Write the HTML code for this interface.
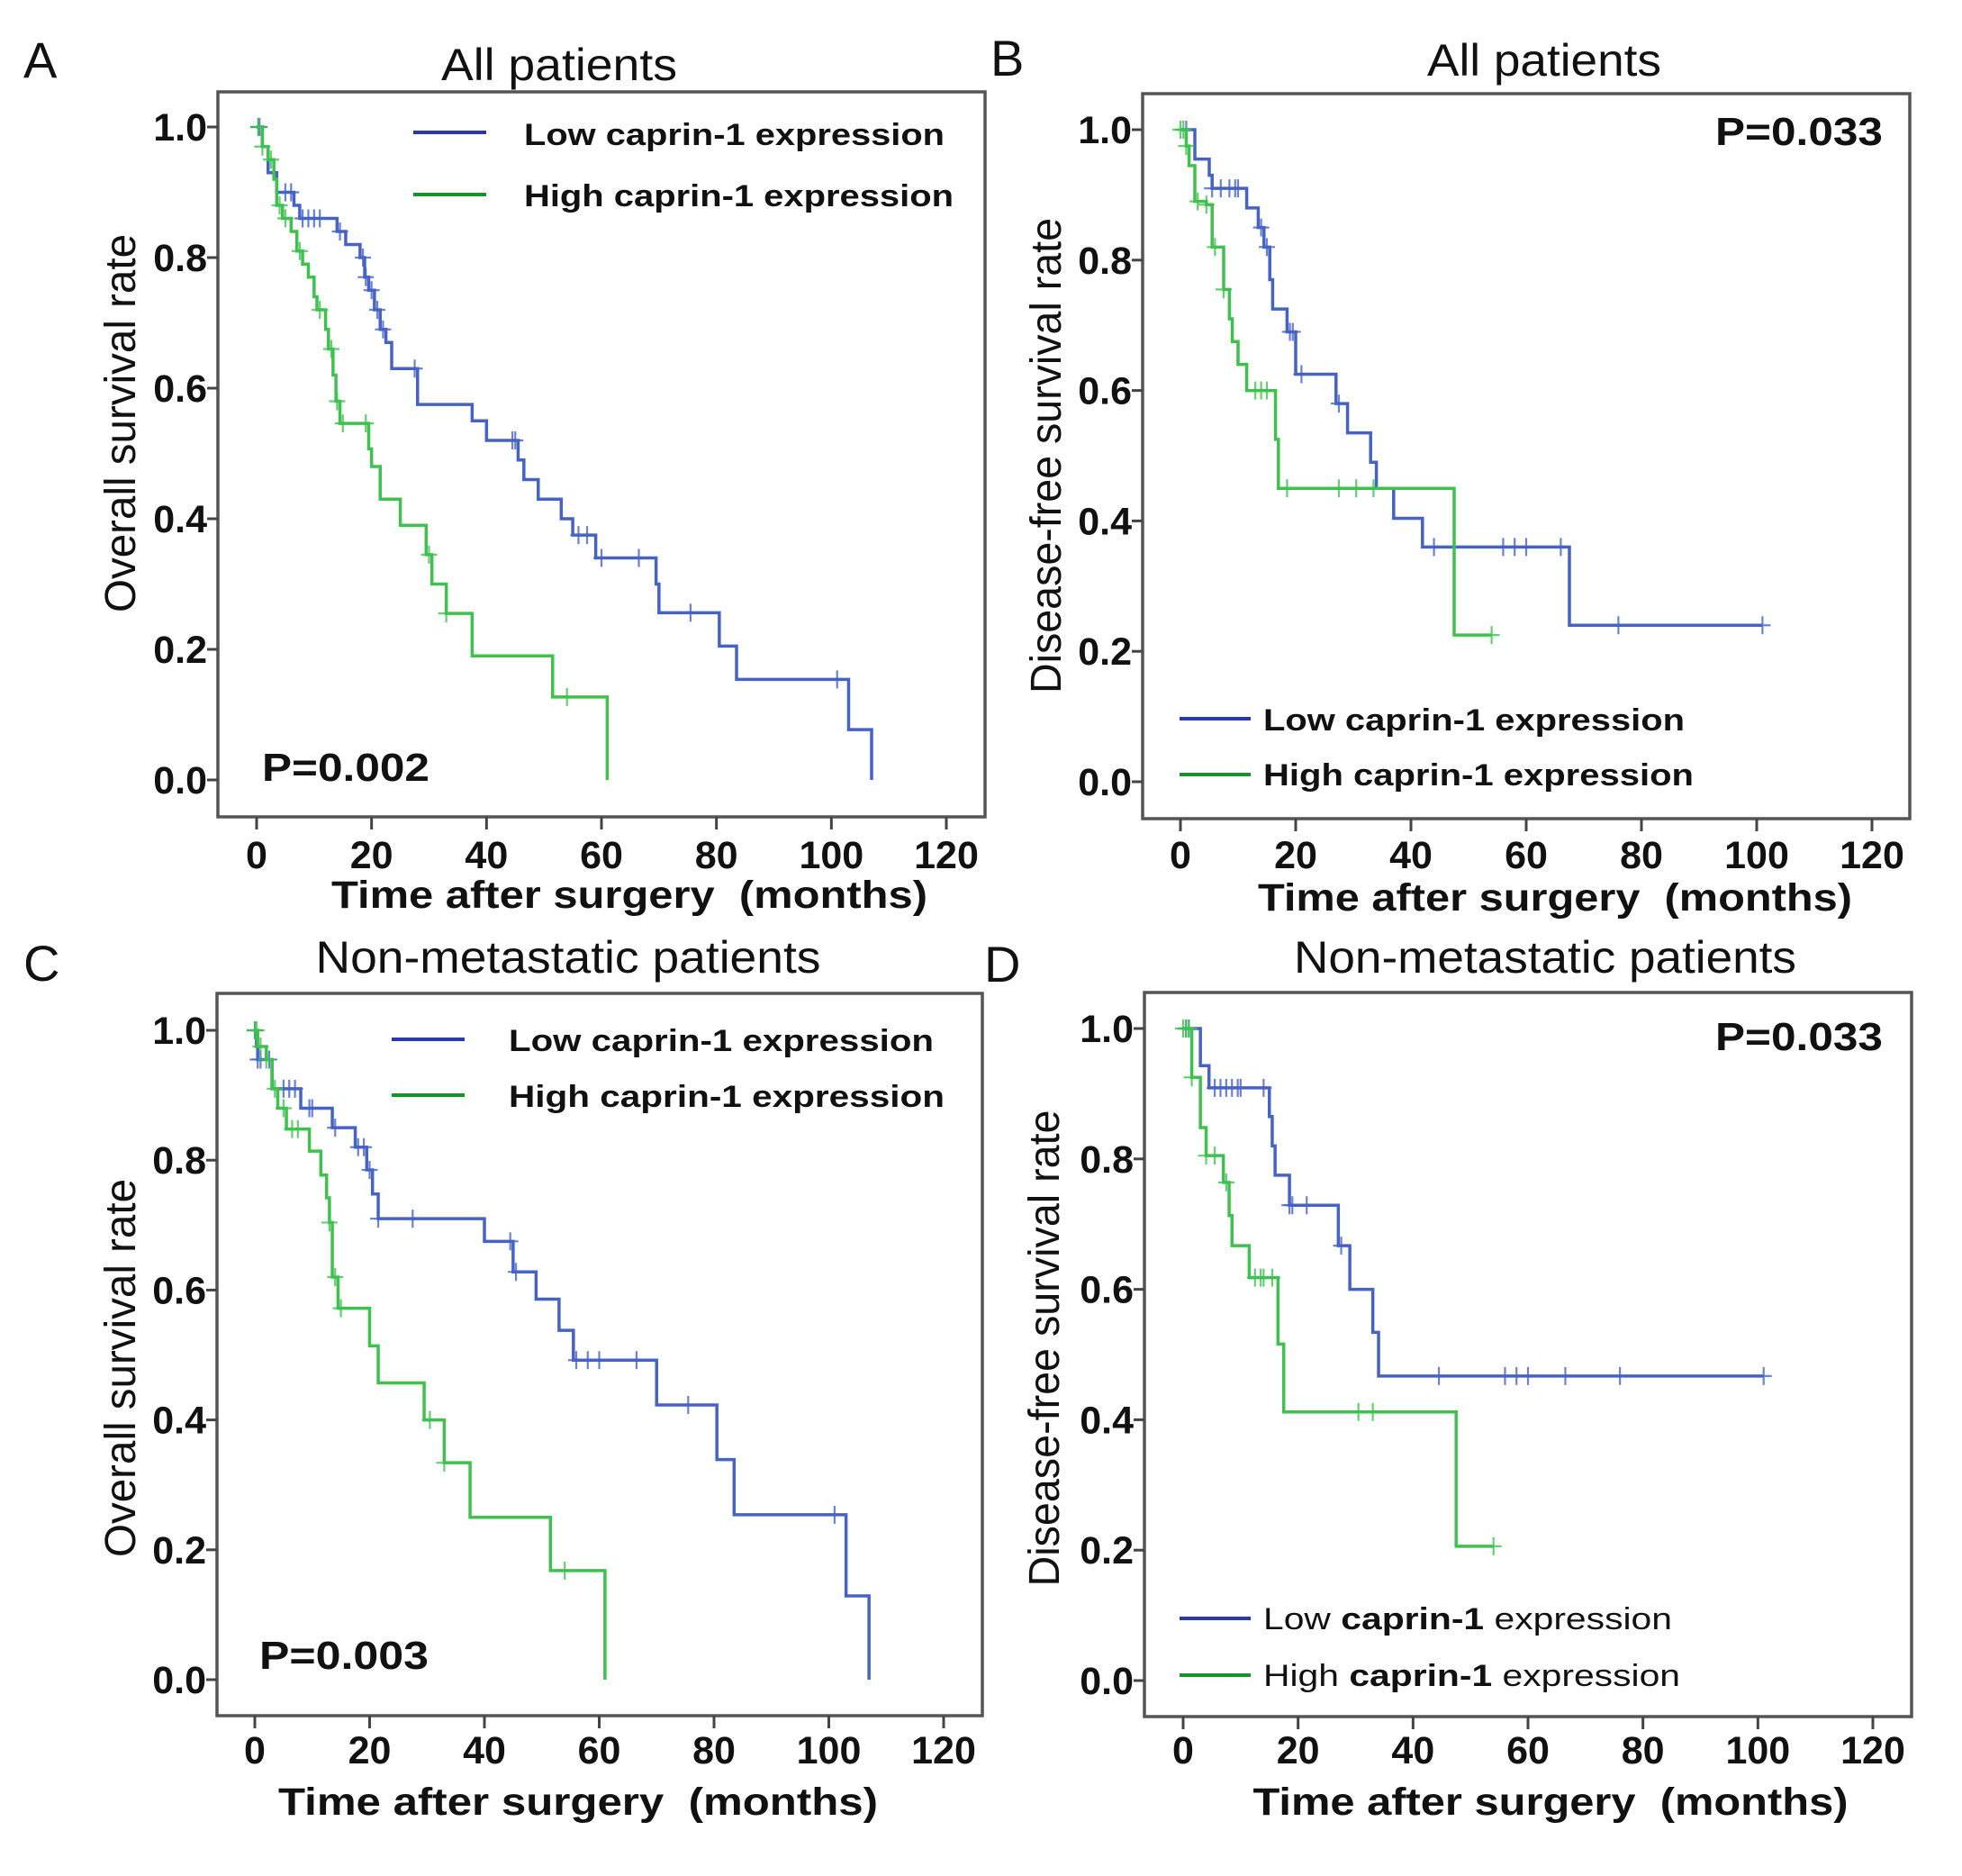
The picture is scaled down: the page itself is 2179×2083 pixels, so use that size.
<!DOCTYPE html>
<html><head><meta charset="utf-8"><style>
html,body{margin:0;padding:0;background:#fff;}
svg{display:block;}
text{font-family:"Liberation Sans",Arial,sans-serif;fill:#111;white-space:pre;}
</style></head><body>
<svg id="fig" width="2179" height="2083" viewBox="0 0 2179 2083" xmlns="http://www.w3.org/2000/svg"></svg>
<script>
// ---------- data (months, survival) ----------
const xTicks = [0, 20, 40, 60, 80, 100, 120];
const yTicks = [0.0, 0.2, 0.4, 0.6, 0.8, 1.0];
const yTickLabels = ["0.0", "0.2", "0.4", "0.6", "0.8", "1.0"];

// Panel A
const aLowEventT = [1,2,3.5,6.5,7.5,14,15.5,18,18.8,19.5,20.5,21.5,22.5,23.5,28,37.5,40,45.5,46.5,49,53,55,59,69.5,70,80.5,83.5,103,107];
const aLowEventS = [0.97,0.93,0.90,0.88,0.86,0.84,0.82,0.80,0.77,0.75,0.72,0.69,0.67,0.63,0.575,0.55,0.52,0.49,0.46,0.43,0.40,0.375,0.34,0.30,0.256,0.205,0.154,0.077,0];
const aLowCensor = [0.3,0.5,5,6,8,9,10,11,14.5,18.5,19,20,21,22,27.5,44.5,45,56,57.5,60,66.5,75.5,101];
const aHighEventT = [1,2,3,3.5,4.5,6,7,8,9,10,10.5,12,12.5,13.3,13.8,14.5,19.5,20,21.5,25,29.5,30.5,33,37.5,51.5,61];
const aHighEventS = [0.97,0.95,0.92,0.88,0.86,0.84,0.81,0.79,0.77,0.74,0.72,0.69,0.66,0.62,0.58,0.546,0.507,0.48,0.43,0.39,0.345,0.30,0.255,0.19,0.127,0];
const aHighCensor = [0.3,1,2.5,4,5,7.5,11,13,14,15,19,30,33,54];

// Panel B
const bLowEventT = [2.5,5,5.5,11.5,13.5,14.5,15.5,16,18.5,20,27,29,33,34,37,42,67.5];
const bLowEventS = [0.955,0.93,0.91,0.88,0.85,0.82,0.77,0.725,0.69,0.625,0.58,0.535,0.49,0.45,0.404,0.36,0.24];
const bLowCensor = [1,5.5,7,8.5,9.5,10,14,15,19,19.5,21,27.5,44,56,58,60,66,76,101];
const bHighEventT = [1,1.5,2.5,4.5,5.5,7.5,8.5,9,10,11.5,16.5,17,47.5];
const bHighEventS = [0.975,0.945,0.89,0.885,0.82,0.755,0.71,0.675,0.64,0.60,0.525,0.45,0.225];
const bHighCensor = [0,0.5,1,3,4.5,6,7.5,13,14,15,18.5,27.5,30.5,33.5,54];

// Panel C
const cLowEventT = [0.3,0.5,3,8,13.5,17.5,19.5,20.5,21.5,40,45,49,53,55.5,70,80.5,83.5,103,107];
const cLowEventS = [0.975,0.955,0.91,0.88,0.85,0.82,0.785,0.748,0.71,0.675,0.628,0.586,0.538,0.492,0.423,0.339,0.254,0.129,0];
const cLowCensor = [0,0.5,1,2.5,5,6,7,9.5,10,14,18,19,20,21.5,27.5,44.5,45.5,56,58,60,66.5,75.5,101];
const cHighEventT = [0.5,2,3,4,5.5,9.5,11.5,12.5,13,13.5,14.5,20,21.5,29.5,33,37.5,51.5,61];
const cHighEventS = [0.975,0.955,0.91,0.88,0.848,0.814,0.777,0.742,0.704,0.62,0.572,0.514,0.457,0.40,0.334,0.25,0.168,0];
const cHighCensor = [0,0.3,1,2,3.5,5,6.5,7.5,13,14,15,30.5,33,54];

// Panel D
const dLowEventT = [3,4.5,15,15.5,16,18.5,27,29,33,34];
const dLowEventS = [0.943,0.909,0.865,0.82,0.775,0.729,0.667,0.60,0.534,0.467];
const dLowCensor = [0.5,1,5.5,6.5,7.5,8.5,9.5,10,14,18.5,19,21.5,27.5,44.5,56,58,60,66.5,76,101];
const dHighEventT = [1.5,3,4,7,8,8.5,11.5,16.5,17.5,47.5];
const dHighEventS = [0.925,0.848,0.805,0.764,0.713,0.667,0.618,0.516,0.412,0.206];
const dHighCensor = [0,0.5,1,1.5,4,5.5,7.5,12.5,13.5,14,15.5,30.5,33,54];

// ---------- rendering ----------
const NS = "http://www.w3.org/2000/svg";
const svg = document.getElementById("fig");
function mk(tag, attrs, parent, txt) {
  const e = document.createElementNS(NS, tag);
  for (const k in attrs) e.setAttribute(k, attrs[k]);
  if (txt !== undefined) e.textContent = txt;
  (parent || svg).appendChild(e);
  return e;
}
const BLUE = "#4663c4", GREEN = "#3fc04f", LBLUE = "#2a37ad", LGREEN = "#18922a";

const panels = [
  {id:"a", letter:"A", lx:26, ly:86, title:"All patients", tx:621, ty:89, tw:262,
   box:[242,102,1094,907], x0:285, x120:1051, y1:141, y0:866,
   ylab:"Overall survival rate", ylx:150, yly:470, ylw:420,
   xlabY:1008, xlabX:699, xlabW:662, xtickY:964,
   low:[aLowEventT,aLowEventS,aLowCensor], high:[aHighEventT,aHighEventS,aHighCensor],
   legend:{x1:459,x2:540,y:[147,216],tx:582,ty:[161,229],tw:[467,477],mixed:false},
   p:"P=0.002", px:291, py:867, pw:186},
  {id:"b", letter:"B", lx:1100, ly:84, title:"All patients", tx:1715, ty:84, tw:260,
   box:[1269,104,2121,909], x0:1311, x120:2079, y1:144, y0:868,
   ylab:"Disease-free survival rate", ylx:1178, yly:506, ylw:528,
   xlabY:1011, xlabX:1727, xlabW:660, xtickY:964,
   low:[bLowEventT,bLowEventS,bLowCensor], high:[bHighEventT,bHighEventS,bHighCensor],
   legend:{x1:1310,x2:1389,y:[798,860],tx:1403,ty:[811,872],tw:[468,478],mixed:false},
   p:"P=0.033", px:1905, py:161, pw:186},
  {id:"c", letter:"C", lx:26, ly:1089, title:"Non-metastatic patients", tx:631, ty:1080, tw:561,
   box:[241,1103,1091,1905], x0:283, x120:1048, y1:1144, y0:1865,
   ylab:"Overall survival rate", ylx:150, yly:1519, ylw:420,
   xlabY:2015, xlabX:642, xlabW:666, xtickY:1958,
   low:[cLowEventT,cLowEventS,cLowCensor], high:[cHighEventT,cHighEventS,cHighCensor],
   legend:{x1:435,x2:516,y:[1154,1216],tx:565,ty:[1167,1229],tw:[472,484],mixed:false},
   p:"P=0.003", px:288, py:1853, pw:188},
  {id:"d", letter:"D", lx:1093, ly:1090, title:"Non-metastatic patients", tx:1716, ty:1080, tw:558,
   box:[1271,1102,2123,1906], x0:1314, x120:2080, y1:1142, y0:1866,
   ylab:"Disease-free survival rate", ylx:1176, yly:1497, ylw:529,
   xlabY:2015, xlabX:1722, xlabW:661, xtickY:1958,
   low:[dLowEventT,dLowEventS,dLowCensor], high:[dHighEventT,dHighEventS,dHighCensor],
   legend:{x1:1310,x2:1389,y:[1797,1860],tx:1403,ty:[1809,1872],tw:[454,463],mixed:true},
   p:"P=0.033", px:1905, py:1166, pw:186}
];

function survAt(T, S, t) {
  let s = 1;
  for (let i = 0; i < T.length; i++) if (T[i] <= t) s = S[i];
  return s;
}

panels.forEach(P => {
  const g = mk("g", {});
  
  
  const xs = v => P.x0 + (P.x120 - P.x0) * v / 120;
  const ys = v => P.y0 + (P.y1 - P.y0) * v;

  const lt = mk("text", {x:P.lx, y:P.ly, "font-size":56}, g, P.letter);
  
  
  const ti = mk("text", {x:P.tx, y:P.ty, "font-size":50, "text-anchor":"middle", textLength:P.tw, lengthAdjust:"spacingAndGlyphs"}, g, P.title);
  
  

  const [bx1, by1, bx2, by2] = P.box;
  const bx = mk("rect", {x:bx1, y:by1, width:bx2-bx1, height:by2-by1, fill:"none", stroke:"#555", "stroke-width":3.5}, g);
  
  

  yTicks.forEach((v, i) => {
    const tk = mk("line", {x1:bx1-12, x2:bx1, y1:ys(v), y2:ys(v), stroke:"#444", "stroke-width":3}, g);
    
    
    const tl = mk("text", {x:bx1-12, y:ys(v)+15, "font-size":43, "font-weight":"bold", "text-anchor":"end"}, g, yTickLabels[i]);
    
    
  });
  xTicks.forEach(v => {
    const tk = mk("line", {x1:xs(v), x2:xs(v), y1:by2, y2:by2+14, stroke:"#444", "stroke-width":3}, g);
    
    
    const tl = mk("text", {x:xs(v), y:P.xtickY, "font-size":43, "font-weight":"bold", "text-anchor":"middle"}, g, String(v));
    
    
  });

  const xl = mk("text", {x:P.xlabX, y:P.xlabY, "font-size":43, "font-weight":"bold", "text-anchor":"middle", textLength:P.xlabW, lengthAdjust:"spacingAndGlyphs"}, g, "Time after surgery  (months)");
  
  
  const yl = mk("text", {x:0, y:0, "font-size":48, "text-anchor":"middle", textLength:P.ylw, lengthAdjust:"spacingAndGlyphs", transform:`translate(${P.ylx},${P.yly}) rotate(-90)`}, g, P.ylab);
  
  

  [[P.low, BLUE, "low"], [P.high, GREEN, "high"]].forEach(([ser, col, nm]) => {
    const [T, S, C] = ser;
    const tEnd = Math.max(T.length ? T[T.length-1] : 0, C.length ? C[C.length-1] : 0);
    let d = `M${xs(0)},${ys(1)}`, s = 1;
    for (let i = 0; i < T.length; i++) {
      d += ` L${xs(T[i])},${ys(s)} L${xs(T[i])},${ys(S[i])}`;
      s = S[i];
    }
    if (tEnd > (T.length ? T[T.length-1] : 0)) d += ` L${xs(tEnd)},${ys(s)}`;
    const pth = mk("path", {d:d, fill:"none", stroke:col, "stroke-width":3.5}, g);
    
    
    C.forEach(t => {
      const cx = xs(t), cy = ys(survAt(T, S, t));
      const cm = mk("path", {d:`M${cx-9},${cy} L${cx+9},${cy} M${cx},${cy-10} L${cx},${cy+10}`, stroke:col, "stroke-width":2.2, opacity:0.8, fill:"none"}, g);
      
      
    });
  });

  const L = P.legend;
  [["Low", LBLUE, 0], ["High", LGREEN, 1]].forEach(([w, col, i]) => {
    const ln = mk("line", {x1:L.x1, x2:L.x2, y1:L.y[i], y2:L.y[i], stroke:col, "stroke-width":4}, g);
    
    
    const tx = mk("text", {x:L.tx, y:L.ty[i], "font-size":34, "font-weight":"bold", textLength:L.tw[i], lengthAdjust:"spacingAndGlyphs"}, g);
    
    
    if (L.mixed) {
      mk("tspan", {"font-weight":"normal"}, tx, w + " ");
      mk("tspan", {"font-weight":"bold"}, tx, "caprin-1");
      mk("tspan", {"font-weight":"normal"}, tx, " expression");
    } else {
      tx.textContent = w + " caprin-1 expression";
    }
  });

  const pv = mk("text", {x:P.px, y:P.py, "font-size":44, "font-weight":"bold", textLength:P.pw, lengthAdjust:"spacingAndGlyphs"}, g, P.p);
  
  
});
</script>
</body></html>
